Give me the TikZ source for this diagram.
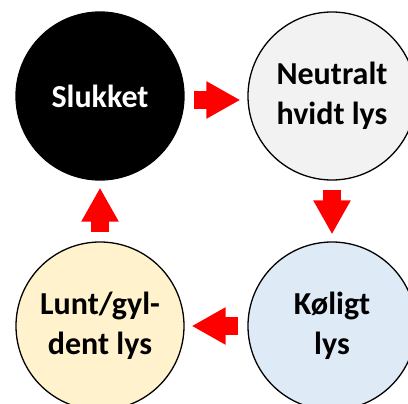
\documentclass[tikz,border=0pt]{standalone}
\usepackage{fontspec}
\setmainfont{Carlito}
\usetikzlibrary{arrows.meta}
\definecolor{graafyld}{HTML}{F2F2F2}
\definecolor{blaafyld}{HTML}{DEEBF7}
\definecolor{gulfyld}{HTML}{FFF2CC}
\begin{document}
\begin{tikzpicture}[x=1pt,y=-1pt,
    tilstand/.style={circle, draw=black, line width=1.3pt, minimum size=168pt,
        inner sep=0pt, align=center, font=\fontsize{32}{40}\selectfont\bfseries},
    pil/.style={red, line width=18pt, shorten <=9pt, shorten >=7pt,
        -{Triangle[length=34pt,width=35pt]}}]
    \clip (0,0) rectangle (408,404);
    % Draw the four states
    \node[tilstand, fill=black, text=white] (slukket) at (100,96) {Slukket};
    \node[tilstand, fill=graafyld] (neutral) at (332,96) {Neutralt\\hvidt lys};
    \node[tilstand, fill=blaafyld] (koligt) at (332,326) {Køligt\\lys};
    \node[tilstand, fill=gulfyld] (lunt) at (100,326) {Lunt/gyl-\\dent lys};

    % Draw arrows between the states
    \foreach \a/\b/\s in {slukket/neutral/-4, neutral/koligt/0, koligt/lunt/0, lunt/slukket/0} {
        \draw[pil, transform canvas={yshift=\s pt}] (\a) -- (\b);
    }
\end{tikzpicture}
\end{document}
